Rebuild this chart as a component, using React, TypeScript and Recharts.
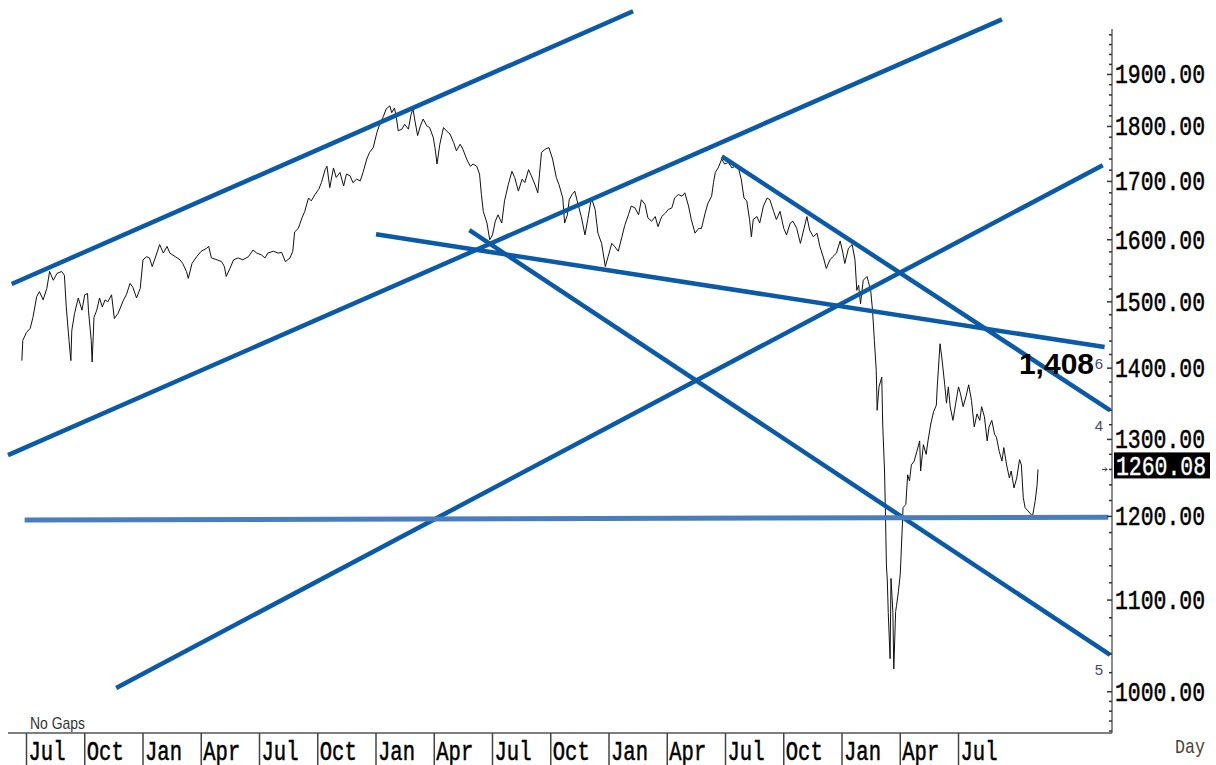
import { LineChart, Line, XAxis, YAxis, ReferenceLine, ReferenceDot } from "recharts";

// [session, close] pairs, session = trading days since the first close shown
const closesA: [number, number][] = [
  [0, 1411], [1, 1441], [5, 1453], [9, 1459], [12, 1476], [16, 1508], [19, 1516], [23, 1503],
  [27, 1521], [30, 1548], [34, 1534], [38, 1545], [43, 1548], [46, 1542], [48, 1492], [51, 1441],
  [53, 1411], [54, 1456], [57, 1482], [61, 1506], [65, 1487], [68, 1511], [71, 1513], [72, 1487],
  [75, 1441], [76, 1409], [78, 1476], [81, 1487], [84, 1506], [87, 1492], [90, 1503], [93, 1500],
  [97, 1511], [100, 1474], [104, 1482], [110, 1503], [113, 1511], [117, 1529], [120, 1523], [124, 1506],
  [128, 1521], [131, 1567], [135, 1572], [138, 1570], [141, 1556], [146, 1578], [149, 1592], [153, 1578],
  [157, 1589], [160, 1578], [166, 1572], [171, 1567], [174, 1561], [178, 1548], [180, 1537], [184, 1561],
  [189, 1572], [194, 1581], [200, 1586], [202, 1589], [205, 1570], [211, 1567], [216, 1564], [219, 1556],
  [221, 1540], [225, 1553], [229, 1567], [234, 1570], [239, 1567], [245, 1572], [250, 1583], [254, 1578],
  [259, 1575], [263, 1570], [266, 1578], [272, 1581], [277, 1578], [281, 1579], [285, 1564], [290, 1570],
  [293, 1581],
];

const closesB: [number, number][] = [
  [295, 1613], [299, 1619], [303, 1637], [306, 1648], [310, 1671], [313, 1666], [317, 1677], [321, 1686],
  [324, 1698], [328, 1721], [330, 1727], [333, 1689], [337, 1724], [340, 1707], [344, 1716], [348, 1692],
  [351, 1713], [355, 1710], [358, 1698], [362, 1704], [366, 1701], [369, 1716], [373, 1740], [376, 1752],
  [380, 1761], [384, 1789], [387, 1804], [391, 1819], [394, 1833], [398, 1839], [400, 1826], [403, 1835],
  [405, 1817], [407, 1792], [411, 1795], [414, 1804], [418, 1795], [421, 1823], [423, 1833], [425, 1812],
  [428, 1783], [431, 1801], [434, 1814], [438, 1801], [441, 1798], [445, 1779], [447, 1758], [449, 1731],
  [452, 1767], [456, 1798], [459, 1792], [463, 1786], [467, 1770], [470, 1755], [474, 1767], [477, 1758],
  [481, 1740], [485, 1727], [488, 1731], [492, 1727], [495, 1713], [497, 1677], [499, 1648], [503, 1628],
  [506, 1600], [509, 1608], [512, 1631], [515, 1642], [519, 1628], [522, 1666], [526, 1694], [530, 1718],
  [533, 1707], [537, 1683], [541, 1704], [544, 1698], [548, 1721], [551, 1710], [555, 1694], [558, 1680],
  [562, 1752], [566, 1758], [570, 1761], [574, 1740], [578, 1707], [581, 1694], [585, 1671], [587, 1628],
  [590, 1642], [592, 1668],
];

const closesC: [number, number][] = [
  [595, 1677], [598, 1683], [602, 1657], [605, 1639], [609, 1608], [612, 1634], [616, 1671], [620, 1651],
  [623, 1611], [627, 1594], [631, 1556], [634, 1572], [638, 1594], [641, 1589], [645, 1581], [649, 1605],
  [652, 1624], [656, 1642], [659, 1657], [663, 1654], [667, 1642], [670, 1668], [674, 1660], [677, 1637],
  [681, 1631], [685, 1639], [688, 1622], [692, 1639], [696, 1645], [699, 1651], [703, 1654], [706, 1671],
  [710, 1677], [714, 1674], [717, 1680], [721, 1657], [724, 1634], [728, 1611], [732, 1619], [735, 1619],
  [739, 1645], [742, 1662], [746, 1674], [748, 1698], [750, 1716], [753, 1724], [757, 1740], [760, 1731],
  [764, 1734], [768, 1724], [771, 1727], [775, 1724], [778, 1704], [781, 1671], [784, 1666], [787, 1634],
  [789, 1605], [791, 1634], [795, 1639], [798, 1628], [802, 1657], [806, 1671], [809, 1668], [813, 1648],
  [816, 1634], [820, 1648], [824, 1619], [827, 1608], [831, 1628], [834, 1631], [838, 1619], [842, 1594],
  [845, 1613], [849, 1639], [852, 1616], [856, 1605], [860, 1611], [863, 1589], [867, 1570], [870, 1553],
  [874, 1567], [877, 1572], [881, 1578],
];

const closesD: [number, number][] = [
  [885, 1598], [888, 1578], [890, 1561], [894, 1586], [898, 1592], [901, 1567], [903, 1518], [905, 1526],
  [907, 1497], [910, 1534], [914, 1540], [918, 1518], [920, 1487], [922, 1441], [924, 1397], [925, 1340],
  [927, 1373], [930, 1387], [931, 1321], [933, 1258], [934, 1203], [935, 1141], [936, 1122], [937, 1086],
  [939, 1035], [940, 1125], [942, 1086], [943, 1024], [945, 1087], [946, 1094], [948, 1110], [950, 1130],
  [952, 1182], [953, 1211], [956, 1215], [958, 1253], [960, 1245], [962, 1266], [965, 1271], [968, 1284],
  [971, 1298], [972, 1258], [975, 1293], [978, 1280], [980, 1298], [983, 1321], [986, 1338], [989, 1347],
  [990, 1373], [993, 1436], [995, 1415], [998, 1377], [1000, 1350], [1002, 1373], [1004, 1345], [1007, 1326],
  [1010, 1350], [1013, 1373], [1015, 1364], [1018, 1345], [1021, 1359], [1024, 1376], [1027, 1354], [1030, 1317],
  [1033, 1335], [1036, 1326], [1038, 1345], [1041, 1331], [1044, 1298], [1046, 1317], [1049, 1326], [1052, 1307],
  [1054, 1303], [1057, 1284], [1060, 1271], [1062, 1289], [1065, 1266], [1068, 1249], [1070, 1258], [1073, 1236],
  [1076, 1249], [1079, 1273], [1081, 1266], [1083, 1224], [1085, 1211], [1088, 1207], [1091, 1203], [1093, 1200],
  [1096, 1220], [1098, 1240], [1099, 1260.08],
];

const quarterLabels = [
  "Jul", "Oct", "Jan", "Apr", "Jul", "Oct", "Jan", "Apr", "Jul",
  "Oct", "Jan", "Apr", "Jul", "Oct", "Jan", "Apr", "Jul",
];

// hand drawn trend lines: [session, price] at each end
const trendLines: { from: [number, number]; to: [number, number]; color: string; width: number }[] = [
  { from: [-11, 1528], to: [661, 2029], color: "#0b5aa8", width: 4.5 },
  { from: [-15, 1279], to: [1060, 2012], color: "#0b5aa8", width: 4.5 },
  { from: [102, 1004], to: [1169, 1729], color: "#0b5aa8", width: 4.5 },
  { from: [383, 1609], to: [1171, 1431], color: "#0b5aa8", width: 4.5 },
  { from: [484, 1616], to: [1177, 1039], color: "#0b5aa8", width: 4.5 },
  { from: [757, 1745], to: [1177, 1340], color: "#0b5aa8", width: 4.5 },
  { from: [3, 1195.5], to: [1175, 1199], color: "#4a7dbe", width: 5 },
];

// small wave markers at the right edge: [label, price]
const waveMarks: [string, number][] = [
  ["6", 1408],
  ["4", 1319],
  ["5", 1024],
];
const targetValue = 1408;

const X_MIN = -15;
const X_MAX = 1179;
const Y_MIN = 958;
const Y_MAX = 1992;

const series = [...closesA, ...closesB, ...closesC, ...closesD].map(([d, close]) => ({ d, close }));
const lastClose = series[series.length - 1].close;

const quarterTicks = quarterLabels.map((_, i) => 5 + i * 63);
const priceTicks: number[] = [];
for (let v = 960; v < 1000; v += 10) priceTicks.push(v);
for (let v = 1000; v <= 1980; v += 20) priceTicks.push(v);

const mono = "'Liberation Mono', 'Courier New', monospace";
const sans = "'Liberation Sans', Arial, sans-serif";

function PriceTick(props: any) {
  const { x, y, payload } = props;
  const v = payload.value as number;
  const major = v % 100 === 0;
  return (
    <g>
      <line x1={x - (major ? 5 : 3)} x2={x} y1={y} y2={y} stroke="#333" strokeWidth={1.5} />
      {major && (
        <text x={x + 3} y={y + 9} fontFamily={mono} fontSize={27} textLength={90}
          lengthAdjust="spacingAndGlyphs" fill="#000" stroke="#000" strokeWidth={0.5}>
          {v.toFixed(2)}
        </text>
      )}
    </g>
  );
}

function MonthTick(props: any) {
  const { x, y, payload } = props;
  const i = quarterTicks.indexOf(payload.value);
  return (
    <g>
      <line x1={x} x2={x} y1={y} y2={y + 40} stroke="#444" strokeWidth={1.5} />
      <text x={x + 2} y={y + 27} fontFamily={mono} fontSize={27} textLength={37}
        lengthAdjust="spacingAndGlyphs" fill="#000" stroke="#000" strokeWidth={0.5}>
        {quarterLabels[i]}
      </text>
    </g>
  );
}

export default function App() {
  return (
    <div>
      <style>{"body{margin:0;overflow:hidden;background:#fff}"}</style>
      <LineChart width={1216} height={765} data={series}
        margin={{ top: 29, right: 0, bottom: 0, left: 8 }}>
        <XAxis type="number" dataKey="d" domain={[X_MIN, X_MAX]} allowDataOverflow
          ticks={quarterTicks} interval={0} tickSize={0} tickMargin={0} height={32}
          axisLine={{ stroke: "#555", strokeWidth: 1.5 }} tickLine={false}
          tick={(p: any) => <MonthTick {...p} />} />
        <YAxis orientation="right" type="number" scale="log" domain={[Y_MIN, Y_MAX]} allowDataOverflow
          ticks={priceTicks} interval={0} tickSize={0} tickMargin={0} width={104}
          axisLine={{ stroke: "#666", strokeWidth: 1.5 }} tickLine={false}
          tick={(p: any) => <PriceTick {...p} />} />
        <Line type="linear" dataKey="close" stroke="#111" strokeWidth={1} dot={false}
          isAnimationActive={false} />
        {trendLines.map((t, i) => (
          <ReferenceLine key={i} ifOverflow="visible" stroke={t.color} strokeWidth={t.width}
            segment={[{ x: t.from[0], y: t.from[1] }, { x: t.to[0], y: t.to[1] }]} />
        ))}
        <ReferenceDot x={X_MAX} y={targetValue} r={0} ifOverflow="visible"
          shape={(p: any) => (
            <text x={p.cx - 18} y={p.cy + 11} textAnchor="end" fontFamily={sans}
              fontWeight="bold" fontSize={30} fill="#000">
              {targetValue.toLocaleString("en-US")}
            </text>
          )} />
        {waveMarks.map(([label, price]) => (
          <ReferenceDot key={label} x={X_MAX} y={price} r={0} ifOverflow="visible"
            shape={(p: any) => (
              <text x={p.cx - 13} y={p.cy + 6} textAnchor="middle" fontFamily={sans}
                fontSize={15} fill="#4a4a70">
                {label}
              </text>
            )} />
        ))}
        <ReferenceDot x={X_MAX} y={lastClose} r={0} ifOverflow="visible"
          shape={(p: any) => (
            <g>
              <path d={`M${p.cx - 10},${p.cy} L${p.cx - 5},${p.cy} M${p.cx - 7},${p.cy - 2} L${p.cx - 5},${p.cy} L${p.cx - 7},${p.cy + 2}`}
                stroke="#333" strokeWidth={1} fill="none" />
              <rect x={p.cx + 2} y={p.cy - 17} width={96} height={26} fill="#000" />
              <text x={p.cx + 4} y={p.cy + 6} fontFamily={mono} fontSize={27} textLength={90}
                lengthAdjust="spacingAndGlyphs" fill="#fff" stroke="#fff" strokeWidth={0.4}>
                {lastClose.toFixed(2)}
              </text>
            </g>
          )} />
        <text x={30} y={729} fontFamily={sans} fontSize={17} textLength={55}
          lengthAdjust="spacingAndGlyphs" fill="#333">No Gaps</text>
        <text x={1175} y={753} fontFamily={mono} fontSize={21} textLength={30}
          lengthAdjust="spacingAndGlyphs" fill="#4a3f30">Day</text>
      </LineChart>
    </div>
  );
}
